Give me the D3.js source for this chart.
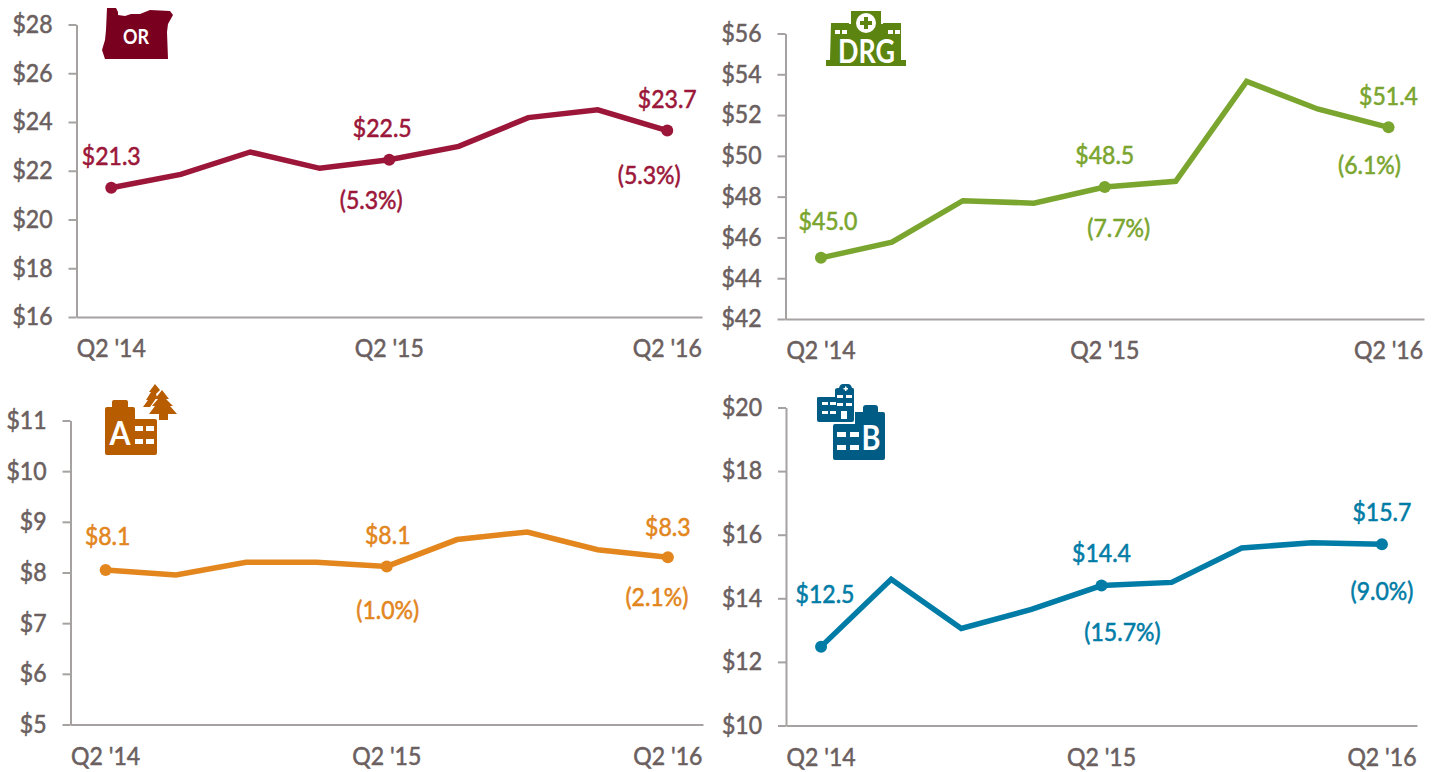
<!DOCTYPE html>
<html><head><meta charset="utf-8">
<script src="https://cdnjs.cloudflare.com/ajax/libs/d3/7.8.5/d3.min.js"></script>
<style>html,body{margin:0;padding:0;background:#fff}svg{display:block}text{font-family:Lato,sans-serif;font-weight:400}</style>
</head><body><svg id="c" width="1442" height="772"></svg>
<script>
const quarters = ["Q2 '14","Q3 '14","Q4 '14","Q1 '15","Q2 '15","Q3 '15","Q4 '15","Q1 '16","Q2 '16"];
const shownQuarters = ["Q2 '14","Q2 '15","Q2 '16"];
const orValues = [21.3,21.85,22.77,22.1,22.45,23.0,24.18,24.5,23.65];
const drgValues = [45.0,45.77,47.8,47.68,48.47,48.75,53.65,52.3,51.4];
const ascValues = [8.05,7.95,8.2,8.2,8.12,8.65,8.8,8.45,8.3];
const partBValues = [12.48,14.6,13.05,13.65,14.4,14.5,15.58,15.75,15.7];
const orTicks = [16,18,20,22,24,26,28];
const drgTicks = [42,44,46,48,50,52,54,56];
const ascTicks = [5,6,7,8,9,10,11];
const partBTicks = [10,12,14,16,18,20];

const panels = [
 {values:orValues,ticks:orTicks,color:"#9b1639",x0:76.5,x1:702,yTop:24.5,yBot:317,
  labels:[{i:0,t:"$21.3",dx:0,dy:-29},{i:4,t:"$22.5",dx:-7,dy:-29},{i:8,t:"$23.7",dx:0,dy:-29},{i:4,t:"(5.3%)",dx:-18,dy:43},{i:8,t:"(5.3%)",dx:-18,dy:47}]},
 {values:drgValues,ticks:drgTicks,color:"#7aa52e",x0:785.5,x1:1424,yTop:33.5,yBot:319,
  labels:[{i:0,t:"$45.0",dx:7,dy:-34},{i:4,t:"$48.5",dx:0,dy:-29},{i:8,t:"$51.4",dx:0,dy:-29},{i:4,t:"(7.7%)",dx:14,dy:44},{i:8,t:"(6.1%)",dx:-19,dy:40}]},
 {values:ascValues,ticks:ascTicks,color:"#e2861d",x0:70.5,x1:703,yTop:420.5,yBot:724.5,
  labels:[{i:0,t:"$8.1",dx:2,dy:-31},{i:4,t:"$8.1",dx:1,dy:-29},{i:8,t:"$8.3",dx:0,dy:-28},{i:4,t:"(1.0%)",dx:1,dy:46},{i:8,t:"(2.1%)",dx:-11,dy:42}]},
 {values:partBValues,ticks:partBTicks,color:"#007ca6",x0:786,x1:1417,yTop:407.5,yBot:725.5,
  labels:[{i:0,t:"$12.5",dx:4,dy:-50},{i:4,t:"$14.4",dx:0,dy:-30},{i:8,t:"$15.7",dx:0,dy:-29},{i:4,t:"(15.7%)",dx:21,dy:49},{i:8,t:"(9.0%)",dx:0,dy:50}]}
];
const grey="#6b5f5f", axisGrey="#a6a2a2";
const svg=d3.select("#c");
// tall narrow lettering: larger size squeezed horizontally, thickened with a hairline stroke
function styleText(sel,color,size=24.5,squeeze=0.94){
  sel.attr("fill",color).attr("font-size",size).attr("stroke",color).attr("stroke-width",0.55)
   .attr("lengthAdjust","spacingAndGlyphs")
   .attr("textLength",function(){return this.getComputedTextLength()*squeeze;});
}
panels.forEach(p=>{
  const x=d3.scaleBand().domain(quarters).range([p.x0,p.x1]);
  const y=d3.scaleLinear().domain(d3.extent(p.ticks)).range([p.yBot,p.yTop]);
  const g=svg.append("g");
  const ay=g.append("g").attr("transform",`translate(${p.x0},0)`).call(d3.axisLeft(y).tickValues(p.ticks).tickFormat(d=>"$"+d).tickSize(8).tickSizeOuter(0));
  ay.select(".domain").attr("stroke",axisGrey).attr("stroke-width",2);
  ay.selectAll("line").attr("stroke",axisGrey).attr("stroke-width",2);
  ay.selectAll("text").attr("x",-24).attr("font-family",null).call(styleText,grey);
  const ax=g.append("g").attr("transform",`translate(0,${p.yBot})`).call(d3.axisBottom(x).tickValues(shownQuarters).tickSize(0).tickSizeOuter(0));
  ax.select(".domain").attr("stroke",axisGrey).attr("stroke-width",2);
  ax.selectAll("text").attr("y",23).call(styleText,grey);
  const line=d3.line().x((d,i)=>x(quarters[i])+x.bandwidth()/2).y(d=>y(d));
  g.append("path").attr("d",line(p.values)).attr("fill","none").attr("stroke",p.color).attr("stroke-width",5.5);
  [0,4,8].forEach(i=>g.append("circle").attr("cx",x(quarters[i])+x.bandwidth()/2).attr("cy",y(p.values[i])).attr("r",6).attr("fill",p.color));
  p.labels.forEach(l=>g.append("text").attr("x",x(quarters[l.i])+x.bandwidth()/2+l.dx).attr("y",y(p.values[l.i])+l.dy).attr("text-anchor","middle").attr("dominant-baseline","middle").text(l.t).call(styleText,p.color));
});

// ---- icons ----
const ic=svg.append("g");
function iconText(px,py,s,size,len){
  ic.append("text").attr("x",px).attr("y",py).attr("text-anchor","middle").attr("fill","#fff").style("font-weight",700).attr("font-size",size).attr("textLength",len).attr("lengthAdjust","spacingAndGlyphs").text(s);
}
// Oregon
ic.append("path").attr("d","M107 8L116 8L118 12L118 15L125 16L131 14L140 14L150 10L170 11L173 15L168 24L167 32L168 59L105 59L102 50L105 40L106 30Z").attr("fill","#7a0020");
iconText(136,44,"OR",20,26);
// DRG
const G="#5b8510";
ic.append("path").attr("d","M831 23H849V24H851V11H881V24H883V23H901V60H906V66H826V60H830Z").attr("fill",G);
ic.append("circle").attr("cx",866).attr("cy",23).attr("r",10).attr("fill","#fff");
ic.append("path").attr("d","M864 17H868V21H872V25H868V29H864V25H860V21H864Z").attr("fill",G);
[[835,30],[842,30],[888,30],[895,30]].forEach(d=>ic.append("rect").attr("x",d[0]).attr("y",d[1]).attr("width",5).attr("height",4).attr("fill","#fff"));
iconText(866.5,63,"DRG",33,57);
// ASC
const O="#b85c00";
ic.append("path").attr("d","M107 407H112V402Q112 400 114 400H126Q128 400 128 402V407H133Q135 407 135 409V419H155Q157 419 157 421V453Q157 455 155 455H107Q105 455 105 453V409Q105 407 107 407Z").attr("fill",O);
iconText(120,445,"A",33,21);
[[135,426],[146,426],[135,439],[146,439]].forEach(d=>ic.append("rect").attr("x",d[0]).attr("y",d[1]).attr("width",8).attr("height",5).attr("fill","#fff"));
ic.append("path").attr("d","M155 384L160 390L156 394L157 397L150 407H143L148 400H146L151 392H149Z").attr("fill",O);
ic.append("path").attr("d","M162 390L169 399L166 399L173 406L170 406L177 414L168 414V420H159V414H149L155 406H152L158 399H155Z").attr("fill",O);
// Part B
const B="#005b85";
ic.append("path").attr("d","M835 390Q835 388 838 388H839Q840 384 843 384H848Q851 384 852 388H853Q854 388 854 390V420Q854 422 852 422H819Q817 422 817 420V398Q817 397 819 397H835Z").attr("fill",B);
[[822,402],[830,402],[822,411],[830,411],[837,395],[846,395],[837,403],[846,403]].forEach(d=>ic.append("rect").attr("x",d[0]).attr("y",d[1]).attr("width",6).attr("height",3).attr("fill","#fff"));
ic.append("rect").attr("x",841).attr("y",411).attr("width",6).attr("height",8).attr("fill","#fff");
ic.append("path").attr("d","M845 386.5H846.5V388H848V389.5H846.5V391H845V389.5H843.500V388H845Z").attr("fill","#fff");
ic.append("path").attr("d","M863 412V408Q863 405 866 405H875Q878 405 878 408V412H883Q885 412 885 414V458Q885 460 883 460H835Q833 460 833 458V426Q833 424 835 424H855V412Z").attr("fill",B);
iconText(871,450,"B",35,19);
[[837,432],[850,432],[837,445],[850,445]].forEach(d=>ic.append("rect").attr("x",d[0]).attr("y",d[1]).attr("width",9).attr("height",5).attr("fill","#fff"));
</script></body></html>
